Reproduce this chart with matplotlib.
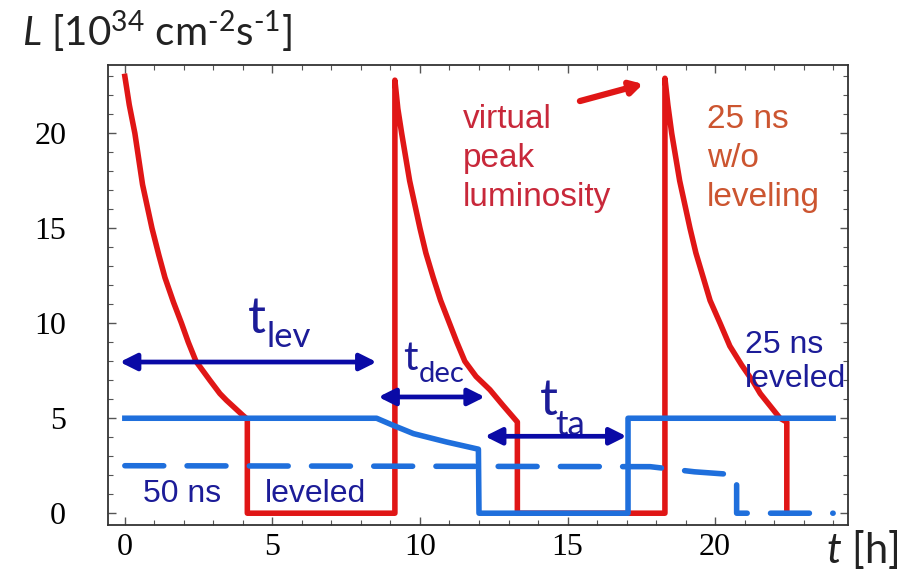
import numpy as np
import matplotlib
matplotlib.use("Agg")
import matplotlib.pyplot as plt
from matplotlib.ticker import MultipleLocator

# red: 25 ns without leveling (virtual peak luminosity)
red_t = [0.0, 0.15, 0.34, 0.6, 0.92, 1.15, 1.36, 1.65, 1.92, 2.15, 2.41, 2.88, 3.22, 3.44, 4.0, 4.15, 4.15,
         9.15, 9.15, 9.25, 9.38, 9.65, 10.0, 10.2, 10.45, 10.7, 11.0, 11.25, 11.52, 11.9, 12.37, 12.8, 13.3, 13.3,
         18.3, 18.3, 18.4, 18.53, 18.8, 19.15, 19.35, 19.6, 19.83, 20.17, 20.5, 20.9, 21.3, 21.53, 22.2, 22.43, 22.43]
red_L = [23.0, 21.5, 20.0, 17.3, 15.0, 13.6, 12.4, 11.1, 10.0, 9.0, 8.0, 7.0, 6.3, 5.95, 5.15, 4.95, 0.0,
         0.0, 22.8, 21.3, 20.0, 17.5, 15.0, 13.7, 12.4, 11.2, 10.0, 9.0, 8.0, 7.2, 6.5, 5.7, 4.8, 0.0,
         0.0, 22.9, 21.5, 20.0, 17.5, 15.0, 13.7, 12.4, 11.2, 10.0, 8.8, 7.8, 6.9, 6.3, 5.0, 4.8, 0.0]

# blue solid: 25 ns leveled
lev25_t = [0.0, 8.53, 9.1, 9.78, 10.9, 11.98, 12.0, 17.05, 17.05, 24.0]
lev25_L = [5.0, 5.0, 4.62, 4.19, 3.75, 3.37, 0.0, 0.0, 5.0, 5.0]

# blue dashed: 50 ns leveled
lev50_t = [0.0, 17.8, 19.3, 20.73, 20.73, 24.0]
lev50_L = [2.5, 2.45, 2.18, 2.02, 0.0, 0.0]

red = '#e01616'
blue = '#1f6fdc'
navy = '#0a0aa6'
navy_txt = '#1c1c98'

plt.rcParams['mathtext.fontset'] = 'custom'
plt.rcParams['mathtext.rm'] = 'Lato'
plt.rcParams['mathtext.it'] = 'Lato:italic'

fig = plt.figure(figsize=(9.14, 5.74), dpi=100)
ax = fig.add_axes([0.118, 0.0854, 0.81, 0.8014])

ax.plot(red_t, red_L, color=red, lw=4.0, solid_joinstyle='round', zorder=2)
ax.plot(lev50_t, lev50_L, color=blue, lw=4.0, dashes=(7, 4.2),
        dash_capstyle='round', zorder=3)
ax.plot(lev25_t, lev25_L, color=blue, lw=4.0, zorder=4)

ax.set_xlim(-0.576, 24.51)
ax.set_ylim(-0.62, 23.6)

ax.xaxis.set_major_locator(MultipleLocator(5))
ax.xaxis.set_minor_locator(MultipleLocator(1))
ax.yaxis.set_major_locator(MultipleLocator(5))
ax.yaxis.set_minor_locator(MultipleLocator(1))
ax.tick_params(which='both', direction='in', top=True, right=True, color='#555555')
ax.tick_params(which='major', length=6, width=1)
ax.tick_params(which='minor', length=3.5, width=0.8)
ax.tick_params(axis='y', which='major', pad=30)
ax.tick_params(axis='x', which='major', pad=6)
for lab in ax.get_xticklabels() + ax.get_yticklabels():
    lab.set_family('Liberation Serif')
    lab.set_fontsize(23)
for sp in ax.spines.values():
    sp.set_color('#333333')
    sp.set_linewidth(1.3)

# double arrows
def dbl_arrow(x0, x1, y):
    ax.annotate('', xy=(x1, y), xytext=(x0, y),
                arrowprops=dict(arrowstyle='<|-|>,head_length=1.0,head_width=0.5',
                                color=navy, lw=3.4, shrinkA=0, shrinkB=0),
                zorder=6)

dbl_arrow(-0.17, 8.53, 7.96)
dbl_arrow(8.59, 12.2, 6.12)
dbl_arrow(12.2, 17.0, 4.05)

# t labels: main letter plus subscript
sans = 'Lato'
ax.text(4.17, 9.47, 't', fontsize=36, color=navy_txt, family=sans, ha='left', va='baseline')
ax.text(4.81, 8.74, 'lev', fontsize=25, color=navy_txt, family=sans, ha='left', va='baseline')
ax.text(9.42, 7.53, 't', fontsize=29, color=navy_txt, family=sans, ha='left', va='baseline')
ax.text(9.95, 6.9, 'dec', fontsize=21, color=navy_txt, family=sans, ha='left', va='baseline')
ax.text(14.07, 5.16, 't', fontsize=36, color=navy_txt, family=sans, ha='left', va='baseline')
ax.text(14.6, 4.1, 'ta', fontsize=25, color=navy_txt, family=sans, ha='left', va='baseline')

# red annotation arrow
ax.annotate('', xy=(17.56, 22.6), xytext=(15.42, 21.7),
            arrowprops=dict(arrowstyle='-|>,head_length=0.7,head_width=0.4',
                            color=red, lw=4.5, shrinkA=0, shrinkB=0))

txt = 'Liberation Sans'
ax.text(11.46, 16.2, 'virtual\npeak\nluminosity', fontsize=24, color='#c8283a',
        family=txt, ha='left', va='baseline', linespacing=1.33)
ax.text(19.72, 16.2, '25 ns\nw/o\nleveling', fontsize=24, color='#cc5530',
        family=txt, ha='left', va='baseline', linespacing=1.33)
ax.text(21.0, 6.63, '25 ns\nleveled', fontsize=23, color=navy_txt,
        family=txt, ha='left', va='baseline', linespacing=1.2)
ax.text(0.6, 0.58, '50 ns', fontsize=23, color=navy_txt, family=txt,
        ha='left', va='baseline')
ax.text(4.75, 0.58, 'leveled', fontsize=23, color=navy_txt, family=txt,
        ha='left', va='baseline')

fig.text(22 / 914, 1 - 46 / 574, '$\\mathit{L}$ [10$^{34}$ cm$^{\u2010 2}$s$^{\u2010 1}$]',
         fontsize=29, family='Lato', color='#222222', ha='left', va='baseline')
fig.text(826 / 914, 1 - 563 / 574, '$\\mathit{t}$ [h]',
         fontsize=30, family='Lato', color='#222222', ha='left', va='baseline')

fig.savefig('out.png', dpi=100)
